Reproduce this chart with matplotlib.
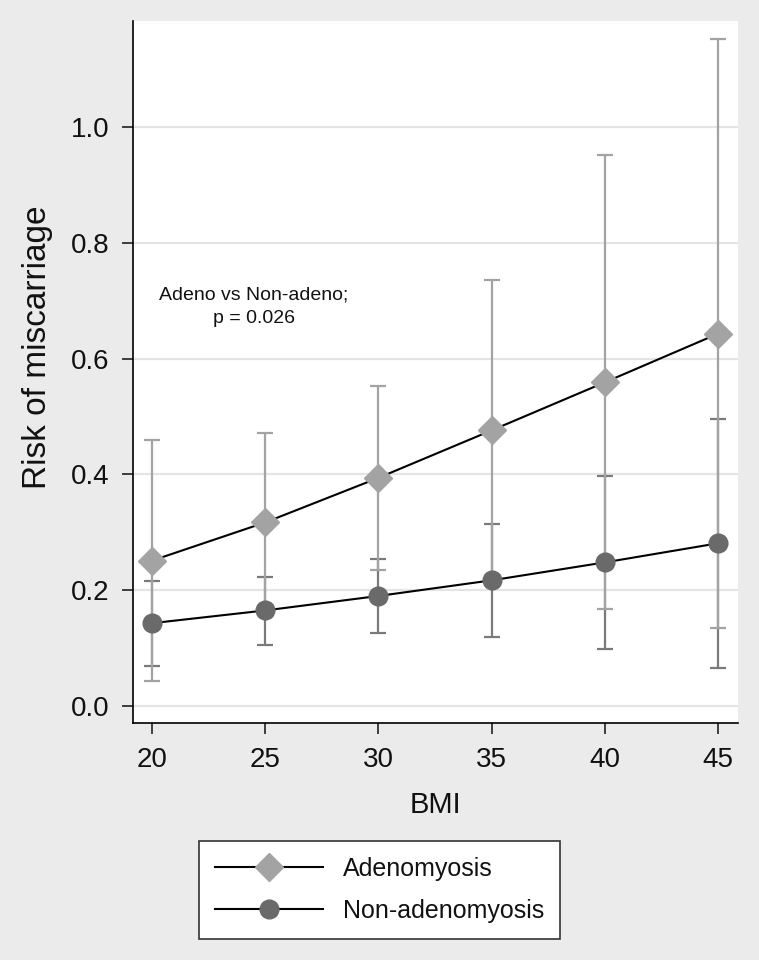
import numpy as np
import matplotlib
matplotlib.use("Agg")
import matplotlib.pyplot as plt
from matplotlib.lines import Line2D

plt.rcParams['font.family'] = ['Liberation Sans', 'DejaVu Sans']

# -------------------------
# Data
# -------------------------
bmi = [20, 25, 30, 35, 40, 45]

adeno = [0.251, 0.317, 0.394, 0.476, 0.559, 0.643]
adeno_lo = [0.043, 0.164, 0.234, 0.217, 0.167, 0.134]
adeno_hi = [0.460, 0.471, 0.552, 0.735, 0.952, 1.152]

non_adeno = [0.143, 0.165, 0.190, 0.217, 0.248, 0.281]
non_lo = [0.069, 0.106, 0.126, 0.119, 0.098, 0.066]
non_hi = [0.216, 0.223, 0.254, 0.315, 0.398, 0.495]

x_ticks = [20, 25, 30, 35, 40, 45]
y_ticks = [0.0, 0.2, 0.4, 0.6, 0.8, 1.0]
labels = ["Adenomyosis", "Non-adenomyosis"]
note = "Adeno vs Non-adeno;\np = 0.026"

# -------------------------
# Styles
# -------------------------
bg = "#ebebeb"
light = "#a3a3a3"
dark = "#6a6a6a"
dark_bar = "#7a7a7a"

fig = plt.figure(figsize=(7.59, 9.6), dpi=100, facecolor=bg)
ax = fig.add_axes([133/759, 1 - 723/960, 605/759, 702/960])
ax.set_facecolor("white")

x = np.array(bmi)
a = np.array(adeno)
n = np.array(non_adeno)

# error bars: non-adeno first, adeno on top
ax.errorbar(x, n, yerr=[n - np.array(non_lo), np.array(non_hi) - n],
            fmt="none", ecolor=dark_bar, elinewidth=1.6, capsize=5.5, capthick=1.6, zorder=2)
ax.errorbar(x, a, yerr=[a - np.array(adeno_lo), np.array(adeno_hi) - a],
            fmt="none", ecolor=light, elinewidth=1.6, capsize=5.5, capthick=1.6, zorder=3)

# lines + markers
ax.plot(x, a, color="black", lw=1.5, zorder=4)
ax.plot(x, n, color="black", lw=1.5, zorder=4)
ax.plot(x, a, ls="none", marker="D", ms=14, color=light, zorder=5)
ax.plot(x, n, ls="none", marker="o", ms=13.5, color=dark, zorder=5)

ax.set_xlim(19.16, 45.88)
ax.set_ylim(-0.0294, 1.183)
ax.set_xticks(x_ticks)
ax.set_yticks(y_ticks)
ax.set_yticklabels([f"{v:.1f}" for v in y_ticks])
ax.yaxis.grid(True, color="#e4e4e4", lw=1.6)
ax.set_axisbelow(True)

for s in ["top", "right"]:
    ax.spines[s].set_visible(False)
for s in ["left", "bottom"]:
    ax.spines[s].set_color("black")
    ax.spines[s].set_linewidth(1.2)

ax.tick_params(axis="both", direction="out", length=8, width=1.2, color="#222222",
               labelsize=20, labelcolor="#111111")
ax.tick_params(axis="y", pad=9)
ax.tick_params(axis="x", pad=9)

ax.set_ylabel("Risk of miscarriage", fontsize=24, color="#111111")
ax.yaxis.set_label_coords(-0.132, 0.535)
ax.set_xlabel("BMI", fontsize=21, color="#111111")
ax.xaxis.set_label_coords(0.5, -0.097)

ax.text(0.2, 0.593, note, transform=ax.transAxes, ha="center", va="center",
        fontsize=14, color="#111111", linespacing=1.55)

# -------------------------
# Legend
# -------------------------
handles = [
    Line2D([], [], color="black", lw=1.5, marker="D", ms=14,
           markerfacecolor=light, markeredgecolor=light),
    Line2D([], [], color="black", lw=1.5, marker="o", ms=13.5,
           markerfacecolor=dark, markeredgecolor=dark),
]
leg = fig.legend(handles, labels, loc="center", bbox_to_anchor=(0.5, 0.073),
                 fontsize=18, frameon=True, fancybox=False, framealpha=1,
                 handlelength=4.3, handletextpad=0.8, labelspacing=0.7, borderpad=0.65)
leg.get_frame().set_facecolor("white")
leg.get_frame().set_edgecolor("#333333")
leg.get_frame().set_linewidth(1.2)
for t in leg.get_texts():
    t.set_color("#111111")

fig.savefig("out.png", dpi=100, facecolor=bg)
